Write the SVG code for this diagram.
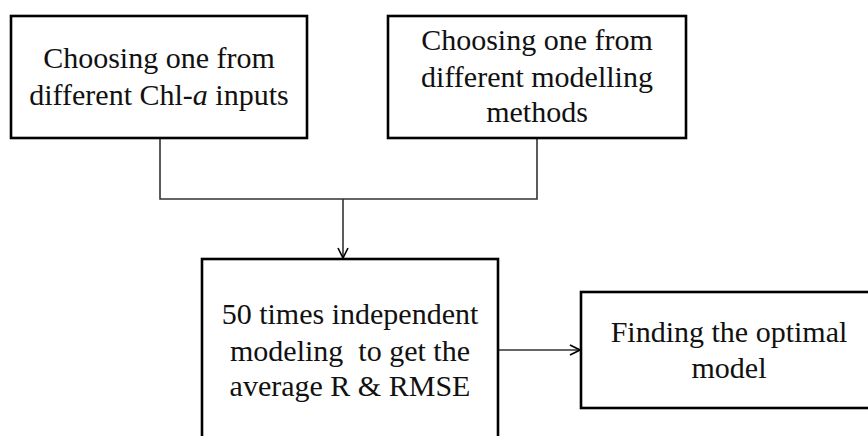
<svg xmlns="http://www.w3.org/2000/svg" width="868" height="436" viewBox="0 0 868 436">
<defs>
<style>
.box{fill:#fff;stroke:#000;stroke-width:2.6}
.t{font-family:"Liberation Serif","Times New Roman",serif;font-size:30px;fill:#111;text-anchor:middle}
.c{fill:none;stroke:#333;stroke-width:1.6}
</style>
<marker id="ah" viewBox="0 0 12 12" refX="11" refY="6" markerWidth="12" markerHeight="12" markerUnits="userSpaceOnUse" orient="auto">
<path d="M1,1 L11,6 L1,11" fill="none" stroke="#000" stroke-width="1.6"/>
</marker>
</defs>
<rect width="868" height="436" fill="#fff"/>
<g id="connectors">
<polyline class="c" points="160,138 160,199 537,199 537,138"/>
<line class="c" x1="343" y1="199" x2="343" y2="258" marker-end="url(#ah)"/>
<line class="c" x1="498" y1="350" x2="580" y2="350" stroke="#000" marker-end="url(#ah)"/>
</g>
<g id="node-chla">
<rect class="box" x="11" y="16" width="296" height="122"/>
<text class="t" x="159" y="68">Choosing one from</text>
<text class="t" x="159" y="105">different Chl-<tspan font-style="italic">a</tspan> inputs</text>
</g>
<g id="node-methods">
<rect class="box" x="388" y="16" width="298" height="122"/>
<text class="t" x="537" y="50">Choosing one from</text>
<text class="t" x="537" y="87">different modelling</text>
<text class="t" x="537" y="122">methods</text>
</g>
<g id="node-modeling">
<rect class="box" x="202" y="259" width="296" height="200"/>
<text class="t" x="350" y="324">50 times independent</text>
<text class="t" x="350" y="361" xml:space="preserve">modeling  to get the</text>
<text class="t" x="350" y="396">average R &amp; RMSE</text>
</g>
<g id="node-optimal">
<rect class="box" x="581" y="292" width="300" height="116"/>
<text class="t" x="729" y="342">Finding the optimal</text>
<text class="t" x="729" y="378">model</text>
</g>
</svg>
